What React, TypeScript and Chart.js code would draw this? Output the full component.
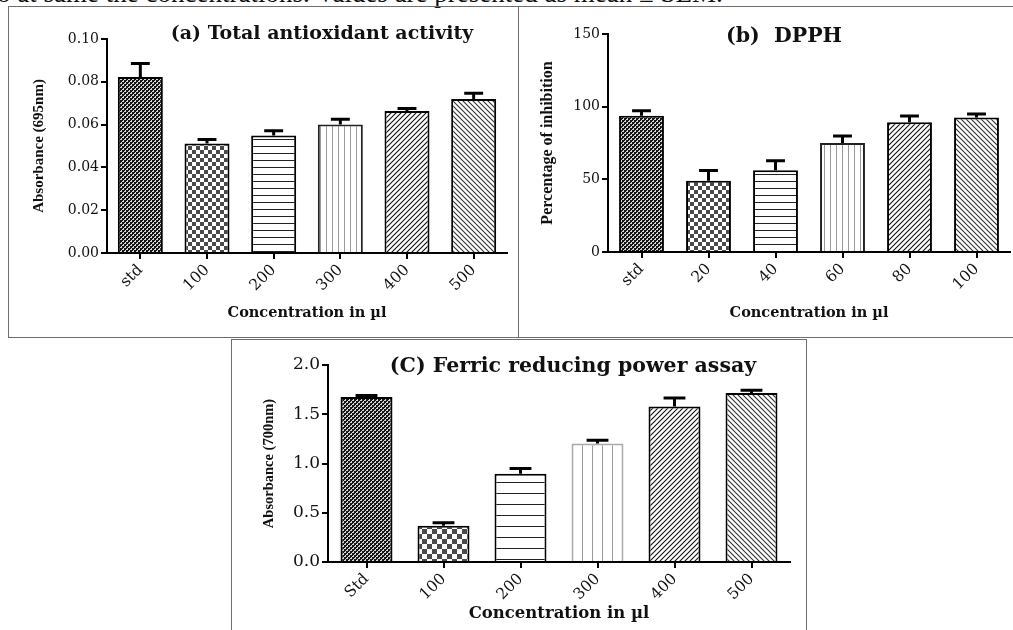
import React, { useEffect, useRef } from "react";
import { Chart, registerables } from "chart.js";

Chart.register(...registerables);

// ---------------- data ----------------
const catsA = ["std", "100", "200", "300", "400", "500"];
const meanA = [0.0822, 0.0512, 0.0549, 0.0601, 0.0664, 0.072];
const semA = [0.0063, 0.0018, 0.0022, 0.0024, 0.0011, 0.0026];
const ticksA = [0, 0.02, 0.04, 0.06, 0.08, 0.1];

const catsB = ["std", "20", "40", "60", "80", "100"];
const meanB = [93.8, 49.0, 56.3, 75.0, 89.2, 92.6];
const semB = [3.4, 7.0, 6.5, 4.8, 4.4, 2.4];
const ticksB = [0, 50, 100, 150];

const catsC = ["Std", "100", "200", "300", "400", "500"];
const meanC = [1.676, 0.368, 0.896, 1.204, 1.579, 1.717];
const semC = [0.014, 0.031, 0.054, 0.033, 0.087, 0.027];
const ticksC = [0, 0.5, 1.0, 1.5, 2.0];

const xTitle = "Concentration in µl";
const caption = "o at same the concentrations. Values are presented as mean ± SEM.";

// ---------------- styles ----------------
const SERIF = "'DejaVu Serif', serif";
const TIMES = "'Liberation Serif', 'Times New Roman', serif";
const INK = "#111";

type Kind = "fine" | "check" | "hline" | "vline" | "diagUp" | "diagDown";
const kinds: Kind[] = ["fine", "check", "hline", "vline", "diagUp", "diagDown"];

function makePattern(kind: Kind, sc: { check: number; h: number; v: number; d: number }): CanvasPattern {
  const c = document.createElement("canvas");
  const g = c.getContext("2d")!;
  if (kind === "fine") {
    c.width = 4; c.height = 4;
    g.fillStyle = "#141414"; g.fillRect(0, 0, 4, 4);
    g.fillStyle = "#d8d8d8"; g.fillRect(0, 0, 2, 2); g.fillRect(2, 2, 2, 2);
    g.fillStyle = "#141414"; g.fillRect(0, 0, 1, 1); g.fillRect(2, 2, 1, 1);
  } else if (kind === "check") {
    const q = sc.check;
    c.width = 2 * q; c.height = 2 * q;
    g.fillStyle = "#ffffff"; g.fillRect(0, 0, 2 * q, 2 * q);
    g.fillStyle = "#4a4a4a"; g.fillRect(0, 0, q, q); g.fillRect(q, q, q, q);
  } else if (kind === "hline") {
    c.width = 4; c.height = sc.h;
    g.fillStyle = "#fff"; g.fillRect(0, 0, 4, sc.h);
    g.fillStyle = "#222"; g.fillRect(0, 0, 4, 1);
  } else if (kind === "vline") {
    c.width = sc.v; c.height = 4;
    g.fillStyle = "#fff"; g.fillRect(0, 0, sc.v, 4);
    g.fillStyle = "#9a9a9a"; g.fillRect(0, 0, 1, 4);
  } else {
    const t = sc.d;
    c.width = t; c.height = t;
    g.fillStyle = "#fff"; g.fillRect(0, 0, t, t);
    g.strokeStyle = kind === "diagUp" ? "#111" : "#333";
    g.lineWidth = 1.1;
    g.beginPath();
    if (kind === "diagUp") {
      g.moveTo(-1, t + 1); g.lineTo(t + 1, -1);
      g.moveTo(-1, 1); g.lineTo(1, -1);
      g.moveTo(t - 1, t + 1); g.lineTo(t + 1, t - 1);
    } else {
      g.moveTo(-1, -1); g.lineTo(t + 1, t + 1);
      g.moveTo(-1, t - 1); g.lineTo(1, t + 1);
      g.moveTo(t - 1, -1); g.lineTo(t + 1, 1);
    }
    g.stroke();
  }
  return g.createPattern(c, "repeat")!;
}

const errorBarPlugin = {
  id: "errorBars",
  afterDatasetsDraw(chart: any, _a: any, opts: any) {
    const { ctx } = chart;
    const yScale = chart.scales.y;
    const errs: number[] = opts.errors || [];
    chart.data.datasets.forEach((ds: any, di: number) => {
      const meta = chart.getDatasetMeta(di);
      meta.data.forEach((el: any, i: number) => {
        const v = ds.data[i] as number;
        const yTop = yScale.getPixelForValue(v + errs[i]);
        const { x, y, width } = el.getProps(["x", "y", "width"], true);
        const half = (width * opts.cap) / 2;
        ctx.save();
        ctx.strokeStyle = "#000";
        ctx.lineWidth = opts.lineWidth;
        ctx.lineCap = "butt";
        ctx.beginPath();
        ctx.moveTo(x, y);
        ctx.lineTo(x, yTop);
        ctx.moveTo(x - half, yTop);
        ctx.lineTo(x + half, yTop);
        ctx.stroke();
        ctx.restore();
      });
    });
  },
};

const panelTitlePlugin = {
  id: "panelTitle",
  afterDraw(chart: any, _a: any, opts: any) {
    if (!opts.text) return;
    const ctx = chart.ctx;
    ctx.save();
    ctx.font = `bold ${opts.size}px ${opts.family}`;
    ctx.fillStyle = INK;
    ctx.textAlign = "center";
    ctx.textBaseline = "middle";
    ctx.fillText(opts.text, opts.x, opts.y);
    ctx.restore();
  },
};

interface PanelSpec {
  cats: string[];
  means: number[];
  sems: number[];
  yTicks: number[];
  decimals: number;
  yTitle: string;
  yTitleSize: number;
  yTitlePad: number;
  xTitleSize: number;
  xTitlePad: number;
  title: string;
  titleSize: number;
  titleX: number;
  titleY: number;
  w: number;
  h: number;
  yW: number;
  xH: number;
  padTop: number;
  padRight: number;
  sc: { check: number; h: number; v: number; d: number };
  barPct: number;
  borders: string[];
  tickSize: number;
  xTickSize: number;
}

function buildChart(canvas: HTMLCanvasElement, p: PanelSpec) {
  const bgs = kinds.map((k) => makePattern(k, p.sc));
  const yMin = p.yTicks[0];
  const yMax = p.yTicks[p.yTicks.length - 1];
  return new Chart(canvas, {
    type: "bar",
    data: {
      labels: p.cats,
      datasets: [
        {
          data: p.means,
          backgroundColor: bgs as any,
          borderColor: p.borders,
          borderWidth: 2,
          barPercentage: p.barPct,
          categoryPercentage: 1,
        },
      ],
    },
    options: {
      responsive: false,
      animation: false,
      devicePixelRatio: 1,
      layout: { padding: { top: p.padTop, right: p.padRight, left: 0, bottom: 0 } },
      plugins: {
        legend: { display: false },
        tooltip: { enabled: false },
        title: { display: false },
        errorBars: { errors: p.sems, cap: 0.42, lineWidth: 3 },
        panelTitle: { text: p.title, size: p.titleSize, family: SERIF, x: p.titleX, y: p.titleY },
      } as any,
      scales: {
        x: {
          type: "category",
          offset: true,
          grid: { offset: false, drawOnChartArea: false, drawTicks: true, tickLength: 6, color: "#000", lineWidth: 2 },
          border: { color: "#000", width: 2 },
          ticks: { font: { family: SERIF, size: p.xTickSize }, color: INK, minRotation: 45, maxRotation: 45, padding: 2 },
          title: {
            display: true,
            text: xTitle,
            color: INK,
            font: { family: SERIF, size: p.xTitleSize, weight: "bold" },
            padding: { top: 0, bottom: p.xTitlePad },
          },
          afterFit: (s: any) => {
            s.height = p.xH;
          },
        },
        y: {
          min: yMin,
          max: yMax,
          grid: { drawOnChartArea: false, drawTicks: true, tickLength: 6, color: "#000", lineWidth: 2 },
          border: { color: "#000", width: 2 },
          ticks: {
            font: { family: SERIF, size: p.tickSize },
            color: INK,
            padding: 2,
            callback: (v: any) => Number(v).toFixed(p.decimals),
          },
          afterBuildTicks: (s: any) => {
            s.ticks = p.yTicks.map((v) => ({ value: v }));
          },
          title: {
            display: true,
            text: p.yTitle,
            color: INK,
            font: { family: TIMES, size: p.yTitleSize, weight: "bold" },
            padding: { top: p.yTitlePad, bottom: 0 },
          },
          afterFit: (s: any) => {
            s.width = p.yW;
          },
        },
      },
    } as any,
    plugins: [errorBarPlugin, panelTitlePlugin],
  });
}

const specA: PanelSpec = {
  cats: catsA, means: meanA, sems: semA, yTicks: ticksA, decimals: 2,
  yTitle: "Absorbance (695nm)", yTitleSize: 15, yTitlePad: 22, xTitleSize: 14.5, xTitlePad: 15,
  title: "(a) Total antioxidant activity", titleSize: 19, titleX: 314, titleY: 28,
  w: 510, h: 331, yW: 99, xH: 84, padTop: 33, padRight: 11,
  sc: { check: 4, h: 7, v: 6, d: 5 }, barPct: 0.675,
  borders: ["#000", "#000", "#000", "#222", "#000", "#000"], tickSize: 14, xTickSize: 15.5,
};

const specB: PanelSpec = {
  cats: catsB, means: meanB, sems: semB, yTicks: ticksB, decimals: 0,
  yTitle: "Percentage of inhibition", yTitleSize: 16, yTitlePad: 20, xTitleSize: 14.5, xTitlePad: 15,
  title: "(b)  DPPH", titleSize: 20.5, titleX: 266, titleY: 31,
  w: 495, h: 331, yW: 90, xH: 85, padTop: 28, padRight: 3,
  sc: { check: 4, h: 7, v: 6, d: 5 }, barPct: 0.67,
  borders: ["#000", "#000", "#000", "#222", "#000", "#000"], tickSize: 14, xTickSize: 15.5,
};

const specC: PanelSpec = {
  cats: catsC, means: meanC, sems: semC, yTicks: ticksC, decimals: 1,
  yTitle: "Absorbance (700nm)", yTitleSize: 14.5, yTitlePad: 29, xTitleSize: 16.5, xTitlePad: 6,
  title: "(C) Ferric reducing power assay", titleSize: 20.5, titleX: 341, titleY: 28,
  w: 574, h: 291, yW: 96, xH: 68, padTop: 26, padRight: 16,
  sc: { check: 5, h: 11, v: 10, d: 5 }, barPct: 0.675,
  borders: ["#000", "#000", "#000", "#aaa", "#000", "#000"], tickSize: 17, xTickSize: 15.5,
};

function Panel({ spec, left, top }: { spec: PanelSpec; left: number; top: number }) {
  const ref = useRef<HTMLCanvasElement>(null);
  useEffect(() => {
    if (!ref.current) return;
    const ch = buildChart(ref.current, spec);
    return () => ch.destroy();
  }, [spec]);
  return (
    <canvas
      ref={ref}
      width={spec.w}
      height={spec.h}
      style={{ position: "absolute", left, top, width: spec.w, height: spec.h }}
    />
  );
}

export default function App() {
  useEffect(() => {
    document.body.style.margin = "0";
    document.body.style.background = "#fff";
  }, []);
  const box = (l: number, t: number, w: number, h: number): React.CSSProperties => ({
    position: "absolute", left: l, top: t, width: w, height: h,
    border: "1px solid #6e6e6e", boxSizing: "border-box",
  });
  return (
    <div style={{ position: "fixed", left: 0, top: 0, width: 1013, height: 630, overflow: "hidden", background: "#fff" }}>
      <div
        style={{
          position: "absolute", left: -3, top: -20, whiteSpace: "nowrap",
          fontFamily: TIMES, fontSize: 27, lineHeight: "27px", color: "#111",
        }}
      >
        {caption}
      </div>
      <div style={box(8, 6, 511, 332)} />
      <div style={box(518, 6, 500, 332)} />
      <div style={box(231, 339, 576, 300)} />
      <Panel spec={specA} left={8} top={6} />
      <Panel spec={specB} left={518} top={6} />
      <Panel spec={specC} left={232} top={339} />
    </div>
  );
}
